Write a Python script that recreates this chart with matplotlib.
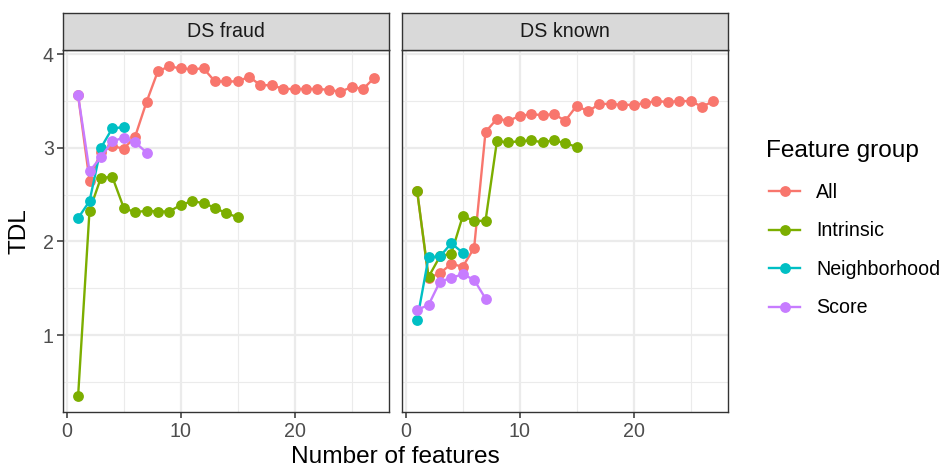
import matplotlib
matplotlib.use("Agg")
import matplotlib.pyplot as plt
from matplotlib.lines import Line2D
import numpy as np

plt.rcParams['font.family'] = ['Liberation Sans', 'DejaVu Sans']

# ---- data ----
groups = ["All", "Intrinsic", "Neighborhood", "Score"]
colors = ["#F8766D", "#7CAE00", "#00BFC4", "#C77CFF"]
facets = ["DS fraud", "DS known"]

fraud_all = [3.56, 2.65, 2.96, 3.02, 2.99, 3.12, 3.49, 3.82, 3.87, 3.85, 3.84, 3.85, 3.71, 3.71,
             3.71, 3.76, 3.67, 3.67, 3.63, 3.63, 3.63, 3.63, 3.62, 3.60, 3.65, 3.63, 3.75]
fraud_intrinsic = [0.35, 2.33, 2.68, 2.69, 2.36, 2.31, 2.33, 2.32, 2.32, 2.39, 2.43, 2.41, 2.36, 2.30, 2.26]
fraud_neighborhood = [2.25, 2.43, 3.00, 3.21, 3.22]
fraud_score = [3.56, 2.75, 2.90, 3.07, 3.11, 3.06, 2.95]

known_all = [2.54, 1.61, 1.66, 1.76, 1.73, 1.93, 3.17, 3.31, 3.29, 3.34, 3.36, 3.35, 3.36, 3.29,
             3.45, 3.39, 3.47, 3.47, 3.46, 3.46, 3.48, 3.50, 3.49, 3.50, 3.50, 3.44, 3.50]
known_intrinsic = [2.54, 1.62, 1.84, 1.87, 2.27, 2.22, 2.22, 3.07, 3.06, 3.07, 3.08, 3.06, 3.08, 3.05, 3.01]
known_neighborhood = [1.16, 1.83, 1.84, 1.98, 1.88]
known_score = [1.27, 1.32, 1.57, 1.61, 1.65, 1.59, 1.39]

data = {
    "DS fraud": [fraud_all, fraud_intrinsic, fraud_neighborhood, fraud_score],
    "DS known": [known_all, known_intrinsic, known_neighborhood, known_score],
}

# ---- layout ----
W, H = 942, 471
fig = plt.figure(figsize=(W / 100, H / 100), dpi=100)

panel_px = [(63.3, 389.3), (402.3, 728.3)]
top_px, bot_px = 50.0, 412.3
strip_top_px = 12.7

all_vals = np.concatenate([np.asarray(v) for f in facets for v in data[f]])
all_x = np.concatenate([np.arange(1, len(v) + 1) for f in facets for v in data[f]])
yr = all_vals.max() - all_vals.min()
ylim = (all_vals.min() - 0.05 * yr, all_vals.max() + 0.05 * yr)
xr = all_x.max() - all_x.min()
xlim = (all_x.min() - 0.05 * xr, all_x.max() + 0.05 * xr)

border_col = "#333333"
grid_col = "#EBEBEB"
tick_col = "#4D4D4D"
small = 14.1
big = 17.6
lw = 1.7
ms = 7.8

for i, facet in enumerate(facets):
    l, r = panel_px[i]
    ax = fig.add_axes([l / W, 1 - bot_px / H, (r - l) / W, (bot_px - top_px) / H])
    ax.set_xlim(*xlim)
    ax.set_ylim(*ylim)
    ax.set_xticks([0, 10, 20])
    ax.set_xticks([5, 15, 25], minor=True)
    ax.set_yticks([1, 2, 3, 4])
    ax.set_yticks([0.5, 1.5, 2.5, 3.5], minor=True)
    ax.grid(which="major", color=grid_col, linewidth=1.6, zorder=0)
    ax.grid(which="minor", color=grid_col, linewidth=0.8, zorder=0)
    ax.set_axisbelow(True)
    for s in ax.spines.values():
        s.set_color(border_col)
        s.set_linewidth(1.0)
    ax.tick_params(axis="both", which="major", length=4.4, width=1.1, color=border_col,
                   labelsize=small, labelcolor=tick_col, pad=2.5)
    ax.tick_params(axis="both", which="minor", length=0)
    if i == 1:
        ax.tick_params(axis="y", labelleft=False, length=0)
    for g, c, vals in zip(groups, colors, data[facet]):
        xs = np.arange(1, len(vals) + 1)
        ax.plot(xs, vals, color=c, linewidth=lw, marker="o", markersize=ms,
                markeredgewidth=0, label=g, zorder=3)
    # strip
    sax = fig.add_axes([l / W, 1 - top_px / H, (r - l) / W, (top_px - strip_top_px) / H])
    sax.set_facecolor("#D9D9D9")
    sax.set_xticks([])
    sax.set_yticks([])
    for s in sax.spines.values():
        s.set_color(border_col)
        s.set_linewidth(1.0)
    sax.text(0.5, 0.5, facet, ha="center", va="center", fontsize=small, color="#1A1A1A",
             transform=sax.transAxes)

fig.text((63.3 + 728.3) / 2 / W, 1 - 457 / H, "Number of features", ha="center", va="center",
         fontsize=big, color="black")
fig.text(20 / W, 1 - (top_px + bot_px) / 2 / H, "TDL", ha="center", va="center",
         rotation=90, fontsize=big, color="black")

# ---- legend (manual, figure pixel coords) ----
fig.text(766.5 / W, 1 - 156.7 / H, "Feature group", ha="left", va="baseline",
         fontsize=big, color="black")
row_y = 191.0
row_step = 38.6
for k, (g, c) in enumerate(zip(groups, colors)):
    yy = 1 - (row_y + k * row_step) / H
    fig.add_artist(Line2D([769 / W, 800 / W], [yy, yy], color=c, linewidth=lw,
                          transform=fig.transFigure))
    fig.add_artist(Line2D([784.5 / W], [yy], color=c, marker="o", markersize=ms,
                          markeredgewidth=0, linestyle="none", transform=fig.transFigure))
    fig.text(816 / W, 1 - (row_y + k * row_step + 6.5) / H, g, ha="left", va="baseline",
             fontsize=small, color="black")

fig.savefig("out.png", dpi=100)
